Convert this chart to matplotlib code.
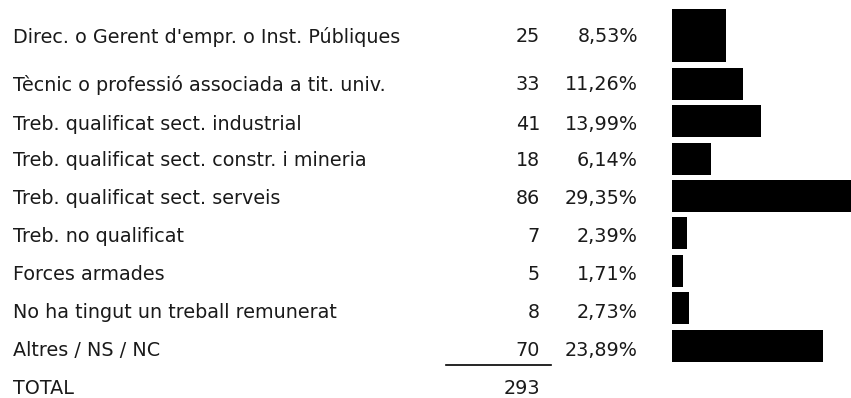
import matplotlib
matplotlib.use("Agg")
import matplotlib.pyplot as plt

plt.rcParams['font.family'] = ['DejaVu Sans']

labels = [
    "Direc. o Gerent d'empr. o Inst. Públiques",
    "Tècnic o professió associada a tit. univ.",
    "Treb. qualificat sect. industrial",
    "Treb. qualificat sect. constr. i mineria",
    "Treb. qualificat sect. serveis",
    "Treb. no qualificat",
    "Forces armades",
    "No ha tingut un treball remunerat",
    "Altres / NS / NC",
]
counts = [25, 33, 41, 18, 86, 7, 5, 8, 70]
pcts = [8.53, 11.26, 13.99, 6.14, 29.35, 2.39, 1.71, 2.73, 23.89]
total = 293

# row layout in pixels (y downwards)
W, H = 851, 398
text_y = [37, 85, 124, 161, 198, 237, 275, 312, 350]
total_y = 388
bar_y = [35.5, 84, 121, 159, 196, 233, 271, 308, 346]
bar_h = [53, 32, 32, 32, 32, 32, 32, 32, 32]
fs = 13.8
tc = '#1a1a1a'

fig = plt.figure(figsize=(W / 100, H / 100), dpi=100)
ax = fig.add_axes([0, 0, 1, 1])
ax.set_xlim(0, W)
ax.set_ylim(H, 0)
ax.axis('off')

for lab, c, p, y in zip(labels, counts, pcts, text_y):
    ax.text(13, y, lab, fontsize=fs, va='center', ha='left', color=tc)
    ax.text(540, y, str(c), fontsize=fs, va='center', ha='right', color=tc)
    ax.text(638, y, f"{p:.2f}%".replace('.', ','), fontsize=fs,
            va='center', ha='right', color=tc)

ax.plot([446, 551], [364.5, 364.5], color='black', lw=1.2)
ax.text(13, total_y, "TOTAL", fontsize=fs, va='center', ha='left', color=tc)
ax.text(540, total_y, str(total), fontsize=fs, va='center', ha='right', color=tc)

# bars: 0% at x=672, about 6.33 px per percentage point
px_per_pct = 6.33
x0 = 672
bax = fig.add_axes([x0 / W, 0, (W - x0) / W, 1])
bax.set_xlim(0, (W - x0) / px_per_pct)
bax.set_ylim(H, 0)
bax.axis('off')
bax.barh(bar_y, pcts, height=bar_h, left=0, color='black')

fig.savefig("out.png", dpi=100)
